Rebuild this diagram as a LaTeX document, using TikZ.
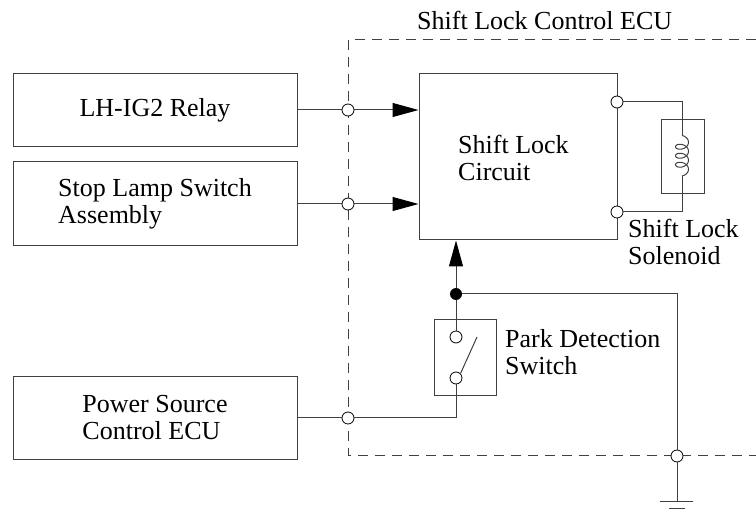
\documentclass[tikz,border=0pt]{standalone}
\usepackage{fontspec}
\setmainfont{Liberation Serif}
\usetikzlibrary{arrows.meta}

\begin{document}
\begin{tikzpicture}[x=1pt,y=-1pt,
  wire/.style={draw=black!75,line width=1pt},
  unit/.style={draw=black!75,line width=1pt,rectangle,align=left,inner sep=0pt},
  port/.style={circle,draw=black,line width=0.8pt,fill=white,minimum size=12pt,inner sep=0pt},
  joint/.style={circle,fill=black,minimum size=12pt,inner sep=0pt},
  feed/.style={wire,-{Triangle[length=26pt,width=14pt,black]}},
  lbl/.style={align=left,inner sep=0pt,anchor=west},
  font=\fontsize{26}{27}\selectfont]
\useasboundingbox (0,0) rectangle (756,513);
% ECU outline
\draw[wire,dash pattern=on 10pt off 7pt] (756,40) -| (348,455) -- (756,455);
\node[lbl] (title) at (417,20) {Shift Lock Control ECU};
% outside units
\node[unit,minimum width=284pt,minimum height=73pt] (relay) at (155,110) {LH-IG2 Relay};
\node[unit,minimum width=284pt,minimum height=84pt] (stop) at (155,204) {Stop Lamp Switch\\Assembly};
\node[unit,minimum width=284pt,minimum height=83pt] (power) at (155,418) {Power Source\\Control ECU};
% inside units
\node[unit,minimum width=198pt,minimum height=166pt] (circuit) at (518,157) {};
\node[lbl] (circuitlbl) at (458,157.5) {Shift Lock\\Circuit};
\node[unit,minimum width=43pt,minimum height=74pt] (solenoid) at (682.5,157) {};
\node[lbl] (sollbl) at (628,241.5) {Shift Lock\\Solenoid};
\node[unit,minimum width=62pt,minimum height=76pt] (park) at (465,358) {};
\node[lbl] (parklbl) at (505,352.5) {Park Detection\\Switch};
% connectors
\node[port] (p1) at (348,110) {};
\node[port] (p2) at (348,204) {};
\node[port] (p3) at (348,418) {};
\node[port] (c1) at (617,102) {};
\node[port] (c2) at (617,212) {};
\node[port] (s1) at (456,337) {};
\node[port] (s2) at (456,378) {};
\node[port] (gp) at (677,456) {};
\node[joint] (j) at (456,294) {};
\coordinate (coiltop) at (682,135.5);
\coordinate (coilbot) at (682,176);
\coordinate (blade) at (477,337);
\coordinate (gnd) at (677,501);
\coordinate (gnd2) at (677,508);
% wiring
\draw[wire] (relay.east |- p1) -- (p1);
\draw[feed] (p1) -- (p1 -| circuit.west);
\draw[wire] (stop.east |- p2) -- (p2);
\draw[feed] (p2) -- (p2 -| circuit.west);
\draw[wire] (c1) -| (coiltop);
\draw[wire] plot[domain=0:1260,samples=160,variable=\t] ({682+6.5*sin(\t)},{140+9*\t/360-4.5*cos(\t)});
\draw[wire] (coilbot) |- (c2);
\draw[feed] (j) -- (j |- circuit.south);
\draw[wire] (s1) -- (j);
\draw[wire] (s2.north east) -- (blade);
\draw[wire] (power.east |- p3) -- (p3);
\draw[wire] (p3) -| (s2);
\draw[wire] (j) -| (gp);
\draw[wire] (gp) -- (gnd);
\draw[wire] ([xshift=-17pt]gnd) -- ([xshift=16pt]gnd);
\draw[wire] ([xshift=-8pt]gnd2) -- ([xshift=8pt]gnd2);
\end{tikzpicture}
\end{document}
